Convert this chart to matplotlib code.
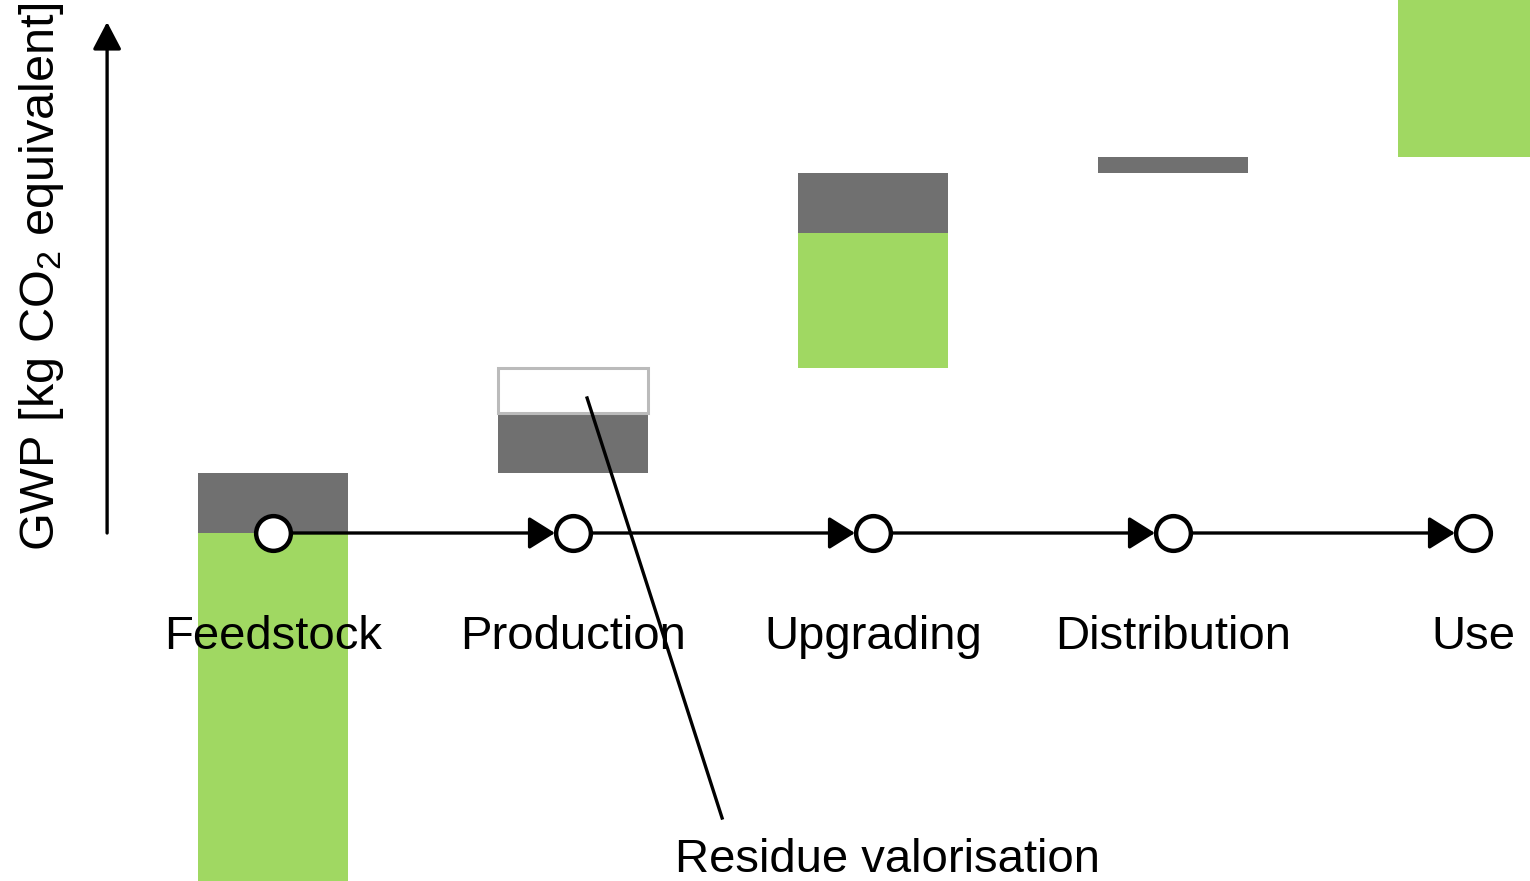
import matplotlib
matplotlib.use("Agg")
from matplotlib import pyplot as plt

plt.rcParams["font.family"] = ["Liberation Sans", "DejaVu Sans"]
plt.rcParams["mathtext.default"] = "regular"

stages = ["Feedstock", "Production", "Upgrading", "Distribution", "Use"]
green = [-40.0, 0.0, 13.5, 0.0, 20.0]     # biogenic / green part
grey = [6.0, 6.0, 6.0, 1.6, 0.0]          # fossil / grey part
residue = [0.0, 4.5, 0.0, 0.0, 0.0]       # residue valorisation (open box)

GREEN = "#a0d862"
GREY = "#707070"

# waterfall bases
base = []
run = 0.0
for g, k, r in zip(green, grey, residue):
    base.append(run)
    run += max(g, 0) + k + r

fig = plt.figure(figsize=(15.3, 8.81), dpi=100)
ax = fig.add_axes([0, 0, 1, 1])
ax.set_xlim(-0.91, 4.19)
ax.set_ylim(-34.8, 53.3)
ax.axis("off")

x = list(range(len(stages)))
grey_bottom = [b + max(g, 0) for b, g in zip(base, green)]
res_bottom = [gb + k for gb, k in zip(grey_bottom, grey)]

ax.bar(x, green, bottom=base, width=0.5, color=GREEN, zorder=1)
ax.bar(x, grey, bottom=grey_bottom, width=0.5, color=GREY, zorder=1)
for i in x:
    if residue[i] > 0:
        ax.bar(i, residue[i], bottom=res_bottom[i], width=0.5, color="white",
               edgecolor="#bbbbbb", linewidth=2.2, zorder=1)

# process chain
for i in x[:-1]:
    ax.annotate("", xy=(i + 1, 0), xytext=(i, 0),
                arrowprops=dict(arrowstyle="-|>,head_length=0.4,head_width=0.25",
                                color="black", lw=2.4, mutation_scale=40,
                                shrinkA=0, shrinkB=13),
                zorder=3)
ax.plot(x, [0] * len(x), linestyle="none", marker="o", markersize=25,
        markerfacecolor="white", markeredgecolor="black", markeredgewidth=3.2, zorder=4)

for i, name in zip(x, stages):
    ax.text(i, -10.4, name, ha="center", va="center", fontsize=34)

# y axis arrow
ax.annotate("", xy=(-0.553, 51.1), xytext=(-0.553, 0),
            arrowprops=dict(arrowstyle="-|>,head_length=0.42,head_width=0.22",
                            color="black", lw=2.4, mutation_scale=40,
                            shrinkA=0, shrinkB=0))
ax.text(-0.77, 25.6, "GWP [kg CO$_2$ equivalent]", rotation=90,
        ha="center", va="center", fontsize=35)

# residue valorisation leader
ax.plot([1.047, 1.497], [13.5, -28.5], color="black", lw=2.4, zorder=5)
ax.text(2.047, -32.7, "Residue valorisation", ha="center", va="center", fontsize=34)

fig.savefig("out.png", dpi=100)
